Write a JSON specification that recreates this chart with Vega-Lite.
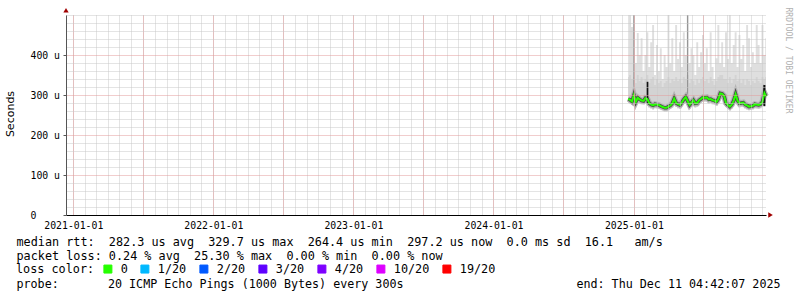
{
  "$schema": "https://vega.github.io/schema/vega-lite/v6.json",
  "width": 700,
  "height": 200,
  "autosize": "none",
  "padding": {"left": 66, "top": 15, "right": 31, "bottom": 82},
  "background": "#ffffff",
  "config": {"view": {"stroke": null}},
  "datasets": {
    "rtt": [
      {"d":"2024-12-17","med":290,"lo":280,"mid":345,"hi":500,"loss":"0"},
      {"d":"2024-12-22","med":288,"lo":279,"mid":350,"hi":500,"loss":"0"},
      {"d":"2024-12-27","med":284,"lo":275,"mid":340,"hi":470,"loss":"0"},
      {"d":"2025-01-01","med":300,"lo":278,"mid":345,"hi":500,"loss":"0"},
      {"d":"2025-01-06","med":283,"lo":274,"mid":330,"hi":380,"loss":"0"},
      {"d":"2025-01-11","med":293,"lo":282,"mid":350,"hi":455,"loss":"0"},
      {"d":"2025-01-16","med":289,"lo":279,"mid":335,"hi":400,"loss":"0"},
      {"d":"2025-01-21","med":286,"lo":277,"mid":345,"hi":442,"loss":"0"},
      {"d":"2025-01-26","med":285,"lo":276,"mid":330,"hi":360,"loss":"0"},
      {"d":"2025-01-31","med":292,"lo":281,"mid":340,"hi":400,"loss":"0"},
      {"d":"2025-02-05","med":290,"lo":279,"mid":350,"hi":457,"loss":"0"},
      {"d":"2025-02-10","med":279,"lo":269,"mid":330,"hi":370,"loss":"0"},
      {"d":"2025-02-15","med":276,"lo":266,"mid":340,"hi":432,"loss":"0"},
      {"d":"2025-02-20","med":274,"lo":264,"mid":345,"hi":475,"loss":"0"},
      {"d":"2025-02-25","med":277,"lo":267,"mid":325,"hi":350,"loss":"0"},
      {"d":"2025-03-02","med":276,"lo":266,"mid":340,"hi":425,"loss":"0"},
      {"d":"2025-03-07","med":275,"lo":265,"mid":330,"hi":360,"loss":"0"},
      {"d":"2025-03-12","med":272,"lo":263,"mid":335,"hi":417,"loss":"0"},
      {"d":"2025-03-17","med":270,"lo":261,"mid":320,"hi":340,"loss":"0"},
      {"d":"2025-03-22","med":268,"lo":259,"mid":330,"hi":400,"loss":"0"},
      {"d":"2025-03-27","med":268,"lo":259,"mid":335,"hi":370,"loss":"0"},
      {"d":"2025-04-01","med":271,"lo":262,"mid":345,"hi":500,"loss":"0"},
      {"d":"2025-04-06","med":274,"lo":265,"mid":330,"hi":380,"loss":"0"},
      {"d":"2025-04-11","med":279,"lo":269,"mid":340,"hi":442,"loss":"0"},
      {"d":"2025-04-16","med":291,"lo":280,"mid":335,"hi":360,"loss":"0"},
      {"d":"2025-04-21","med":280,"lo":270,"mid":345,"hi":475,"loss":"0"},
      {"d":"2025-04-26","med":277,"lo":267,"mid":335,"hi":390,"loss":"0"},
      {"d":"2025-05-01","med":275,"lo":265,"mid":340,"hi":432,"loss":"0"},
      {"d":"2025-05-06","med":282,"lo":272,"mid":330,"hi":370,"loss":"0"},
      {"d":"2025-05-11","med":289,"lo":279,"mid":345,"hi":457,"loss":"0"},
      {"d":"2025-05-16","med":295,"lo":284,"mid":340,"hi":400,"loss":"0"},
      {"d":"2025-05-21","med":285,"lo":275,"mid":350,"hi":500,"loss":"0"},
      {"d":"2025-05-26","med":275,"lo":265,"mid":330,"hi":380,"loss":"0"},
      {"d":"2025-05-31","med":281,"lo":271,"mid":340,"hi":417,"loss":"0"},
      {"d":"2025-06-05","med":287,"lo":277,"mid":335,"hi":400,"loss":"0"},
      {"d":"2025-06-10","med":279,"lo":269,"mid":325,"hi":350,"loss":"0"},
      {"d":"2025-06-15","med":280,"lo":270,"mid":340,"hi":432,"loss":"0"},
      {"d":"2025-06-20","med":287,"lo":277,"mid":330,"hi":370,"loss":"0"},
      {"d":"2025-06-25","med":290,"lo":280,"mid":340,"hi":407,"loss":"0"},
      {"d":"2025-06-30","med":294,"lo":284,"mid":345,"hi":450,"loss":"0"},
      {"d":"2025-07-05","med":293,"lo":283,"mid":335,"hi":380,"loss":"0"},
      {"d":"2025-07-10","med":294,"lo":284,"mid":340,"hi":417,"loss":"0"},
      {"d":"2025-07-15","med":289,"lo":279,"mid":330,"hi":360,"loss":"0"},
      {"d":"2025-07-20","med":290,"lo":280,"mid":345,"hi":457,"loss":"0"},
      {"d":"2025-07-25","med":287,"lo":277,"mid":335,"hi":370,"loss":"0"},
      {"d":"2025-07-30","med":286,"lo":276,"mid":325,"hi":340,"loss":"0"},
      {"d":"2025-08-04","med":283,"lo":273,"mid":335,"hi":392,"loss":"0"},
      {"d":"2025-08-09","med":290,"lo":280,"mid":345,"hi":475,"loss":"0"},
      {"d":"2025-08-14","med":304,"lo":292,"mid":350,"hi":380,"loss":"0"},
      {"d":"2025-08-19","med":303,"lo":291,"mid":350,"hi":432,"loss":"0"},
      {"d":"2025-08-24","med":298,"lo":287,"mid":340,"hi":370,"loss":"0"},
      {"d":"2025-08-29","med":280,"lo":270,"mid":340,"hi":457,"loss":"0"},
      {"d":"2025-09-03","med":275,"lo":265,"mid":330,"hi":390,"loss":"0"},
      {"d":"2025-09-08","med":271,"lo":262,"mid":345,"hi":500,"loss":"0"},
      {"d":"2025-09-13","med":276,"lo":266,"mid":330,"hi":380,"loss":"0"},
      {"d":"2025-09-18","med":286,"lo":276,"mid":340,"hi":425,"loss":"0"},
      {"d":"2025-09-23","med":302,"lo":290,"mid":350,"hi":457,"loss":"0"},
      {"d":"2025-09-28","med":286,"lo":276,"mid":335,"hi":370,"loss":"0"},
      {"d":"2025-10-03","med":279,"lo":269,"mid":340,"hi":450,"loss":"0"},
      {"d":"2025-10-08","med":280,"lo":270,"mid":330,"hi":390,"loss":"0"},
      {"d":"2025-10-13","med":281,"lo":271,"mid":340,"hi":425,"loss":"0"},
      {"d":"2025-10-18","med":276,"lo":266,"mid":325,"hi":360,"loss":"0"},
      {"d":"2025-10-23","med":274,"lo":264,"mid":340,"hi":475,"loss":"0"},
      {"d":"2025-10-28","med":271,"lo":262,"mid":335,"hi":442,"loss":"0"},
      {"d":"2025-11-02","med":272,"lo":263,"mid":325,"hi":370,"loss":"0"},
      {"d":"2025-11-07","med":273,"lo":264,"mid":335,"hi":407,"loss":"0"},
      {"d":"2025-11-12","med":277,"lo":267,"mid":330,"hi":380,"loss":"0"},
      {"d":"2025-11-17","med":276,"lo":266,"mid":345,"hi":475,"loss":"0"},
      {"d":"2025-11-22","med":275,"lo":265,"mid":335,"hi":425,"loss":"0"},
      {"d":"2025-11-27","med":277,"lo":267,"mid":330,"hi":380,"loss":"0"},
      {"d":"2025-12-02","med":283,"lo":273,"mid":345,"hi":475,"loss":"0"},
      {"d":"2025-12-07","med":305,"lo":280,"mid":340,"hi":400,"loss":"0"},
      {"d":"2025-12-11","med":297,"lo":285,"mid":345,"hi":442,"loss":"0"}
    ],
    "spikes": [
      {"d":"2025-01-01","lo":300,"hi":500,"kind":"outlier"},
      {"d":"2025-05-21","lo":295,"hi":500,"kind":"outlier"},
      {"d":"2025-02-05","lo":280,"hi":333,"kind":"dense"},
      {"d":"2025-12-07","lo":272,"hi":325,"kind":"dense"}
    ],
    "arrows": [
      {"d":"2020-12-13","v":512,"dir":"up"},
      {"d":"2025-12-23","v":0,"dir":"right"}
    ]
  },
  "resolve": {"axis": {"x": "independent", "y": "independent"}},
  "layer": [
    {
      "data": {"name": "rtt"},
      "mark": {"type": "area", "interpolate": "step", "color": "#dfdfdf"},
      "encoding": {
        "x": {"field": "d", "type": "temporal",
          "scale": {"type": "utc", "domain": [{"year": 2020, "month": 12, "date": 13, "utc": true}, {"year": 2025, "month": 12, "date": 11, "hours": 4, "minutes": 42, "utc": true}]},
          "axis": {"orient": "bottom", "grid": true, "gridColor": "#c8c8c8", "gridDash": [1, 1], "gridWidth": 1, "labels": false, "ticks": false, "domain": false, "tickCount": {"interval": "month", "step": 1}, "zindex": 1,
            "title": "probe:\u00a0\u00a0\u00a0\u00a0\u00a0\u00a0\u00a020\u00a0ICMP\u00a0Echo\u00a0Pings\u00a0(1000\u00a0Bytes)\u00a0every\u00a0300s", "titleFont": "DejaVu Sans Mono", "titleFontSize": 11.7, "titleFontWeight": "normal", "titleColor": "#000000", "titleX": -50, "titleY": 72.3, "titleAlign": "left", "titleBaseline": "alphabetic"}},
        "y": {"field": "lo", "type": "quantitative",
          "scale": {"domain": [0, 500], "nice": false},
          "axis": {"orient": "left", "grid": true, "gridColor": "#c8c8c8", "gridDash": [1, 1], "gridWidth": 1, "labels": false, "ticks": false, "domain": false, "title": null, "values": [20, 40, 60, 80, 120, 140, 160, 180, 220, 240, 260, 280, 320, 340, 360, 380, 420, 440, 460, 480, 500], "zindex": 1}},
        "y2": {"field": "hi"}
      }
    },
    {
      "data": {"name": "rtt"},
      "mark": {"type": "area", "interpolate": "step", "color": "#d3d3d3"},
      "encoding": {
        "x": {"field": "d", "type": "temporal",
          "axis": {"orient": "bottom", "grid": true, "gridColor": "#e39a9a", "gridDash": [1, 1], "gridWidth": 1, "labels": false, "ticks": false, "domain": false, "title": null, "tickCount": {"interval": "month", "step": 6}, "zindex": 1}},
        "y": {"field": "lo", "type": "quantitative",
          "axis": {"orient": "left", "grid": true, "gridColor": "#e39a9a", "gridDash": [1, 1], "gridWidth": 1, "labels": false, "ticks": false, "domain": false, "title": null, "values": [100, 200, 300, 400], "zindex": 1}},
        "y2": {"field": "mid"}
      }
    },
    {
      "data": {"name": "spikes"},
      "transform": [{"filter": "datum.kind == 'outlier'"}],
      "mark": {"type": "rule", "color": "#8a8a8a", "strokeWidth": 1},
      "encoding": {
        "x": {"field": "d", "type": "temporal", "axis": null},
        "y": {"field": "lo", "type": "quantitative", "axis": null},
        "y2": {"field": "hi"}
      }
    },
    {
      "data": {"name": "rtt"},
      "mark": {"type": "line", "color": "#b5b5b5", "strokeWidth": 6},
      "encoding": {
        "x": {"field": "d", "type": "temporal",
          "axis": {"orient": "bottom", "grid": false, "format": "%Y-%m-%d", "tickCount": {"interval": "year", "step": 1},
            "labelFont": "DejaVu Sans Mono", "labelFontSize": 9.8, "labelColor": "#000000", "labelBaseline": "alphabetic", "labelPadding": 10.3, "labelFlush": false, "labelOverlap": false, "labelBound": false,
            "ticks": true, "tickSize": 3, "tickOpacity": 0, "domain": true, "domainColor": "#000000", "domainWidth": 1, "zindex": 1,
            "title": ["median\u00a0rtt:\u00a0\u00a0282.3\u00a0us\u00a0avg\u00a0\u00a0329.7\u00a0us\u00a0max\u00a0\u00a0264.4\u00a0us\u00a0min\u00a0\u00a0297.2\u00a0us\u00a0now\u00a0\u00a00.0\u00a0ms\u00a0sd\u00a0\u00a016.1\u00a0\u00a0\u00a0am/s", "packet\u00a0loss:\u00a00.24\u00a0%\u00a0avg\u00a0\u00a025.30\u00a0%\u00a0max\u00a0\u00a00.00\u00a0%\u00a0min\u00a0\u00a00.00\u00a0%\u00a0now"],
            "titleFont": "DejaVu Sans Mono", "titleFontSize": 11.8, "titleFontWeight": "normal", "titleColor": "#000000", "titleX": -50, "titleY": 30, "titleAlign": "left", "titleBaseline": "alphabetic", "titleLineHeight": 14.1}},
        "y": {"field": "med", "type": "quantitative",
          "axis": {"orient": "left", "grid": false, "values": [0, 100, 200, 300, 400], "labelExpr": "datum.value == 0 ? '0' : datum.value + ' u'",
            "labelFont": "DejaVu Sans Mono", "labelFontSize": 9.8, "labelColor": "#000000", "labelAlign": "left", "labelBaseline": "middle", "labelPadding": 33, "labelFlush": false, "labelOverlap": false, "labelBound": false,
            "ticks": true, "tickSize": 3, "tickColor": "#555555", "domain": true, "domainColor": "#555555", "domainWidth": 1, "zindex": 1,
            "title": "Seconds", "titleFont": "DejaVu Sans", "titleFontSize": 11, "titleFontWeight": "normal", "titleColor": "#000000", "titleX": -56, "titleY": 98.5, "titleAngle": -90, "titleAlign": "center", "titleBaseline": "middle"}}
      }
    },
    {
      "data": {"name": "rtt"},
      "mark": {"type": "line", "color": "#4a4a4a", "strokeWidth": 3.5},
      "encoding": {
        "x": {"field": "d", "type": "temporal", "axis": null},
        "y": {"field": "med", "type": "quantitative", "axis": null}
      }
    },
    {
      "data": {"name": "spikes"},
      "transform": [{"filter": "datum.kind == 'dense'"}],
      "mark": {"type": "rule", "color": "#111111", "strokeWidth": 2},
      "encoding": {
        "x": {"field": "d", "type": "temporal", "axis": null},
        "y": {"field": "lo", "type": "quantitative", "axis": null},
        "y2": {"field": "hi"}
      }
    },
    {
      "data": {"name": "rtt"},
      "mark": {"type": "line", "strokeWidth": 2},
      "encoding": {
        "x": {"field": "d", "type": "temporal",
          "axis": {"orient": "bottom", "grid": false, "labels": false, "ticks": false, "domain": false,
            "title": "end:\u00a0Thu\u00a0Dec\u00a011\u00a004:42:07\u00a02025", "titleFont": "DejaVu Sans Mono", "titleFontSize": 11.7, "titleFontWeight": "normal", "titleColor": "#000000", "titleX": 714, "titleY": 72.3, "titleAlign": "right", "titleBaseline": "alphabetic"}},
        "y": {"field": "med", "type": "quantitative",
          "axis": {"orient": "right", "grid": false, "labels": false, "ticks": false, "domain": false,
            "title": "RRDTOOL / TOBI OETIKER", "titleFont": "DejaVu Sans Mono", "titleFontSize": 8, "titleFontWeight": "normal", "titleColor": "#b0b0b0", "titleX": 21, "titleY": 45, "titleAngle": 90, "titleAlign": "center", "titleBaseline": "middle"}},
        "color": {"field": "loss", "type": "nominal",
          "scale": {"domain": ["0", "1/20", "2/20", "3/20", "4/20", "10/20", "19/20"], "range": ["#26ff00", "#00b8ff", "#0059ff", "#5e00ff", "#7e00ff", "#dd00ff", "#ff0000"]},
          "legend": {"orient": "none", "legendX": -50, "legendY": 248, "direction": "horizontal", "padding": 0,
            "title": "loss color:", "titleOrient": "left", "titleFont": "DejaVu Sans Mono", "titleFontSize": 11.8, "titleFontWeight": "normal", "titleColor": "#000000", "titlePadding": 7, "titleBaseline": "middle",
            "symbolType": "square", "symbolSize": 64, "symbolStrokeWidth": 1, "symbolStrokeColor": "#000000", "symbolOffset": 0,
            "labelFont": "DejaVu Sans Mono", "labelFontSize": 11.8, "labelColor": "#000000", "labelOffset": 7, "columnPadding": 10,
            "encode": {"symbols": {"update": {"fill": {"scale": "color", "field": "value"}, "stroke": {"value": "#000000"}, "strokeWidth": {"value": 1}, "shape": {"value": "square"}, "size": {"value": 64}, "opacity": {"value": 1}, "fillOpacity": {"value": 1}}}}}}
      }
    },
    {
      "data": {"name": "arrows"},
      "mark": {"type": "point", "filled": true, "color": "#a00000", "size": 28, "opacity": 1},
      "encoding": {
        "x": {"field": "d", "type": "temporal", "axis": null},
        "y": {"field": "v", "type": "quantitative", "axis": null},
        "shape": {"field": "dir", "type": "nominal", "scale": {"domain": ["up", "right"], "range": ["triangle-up", "triangle-right"]}, "legend": null}
      }
    }
  ]
}
